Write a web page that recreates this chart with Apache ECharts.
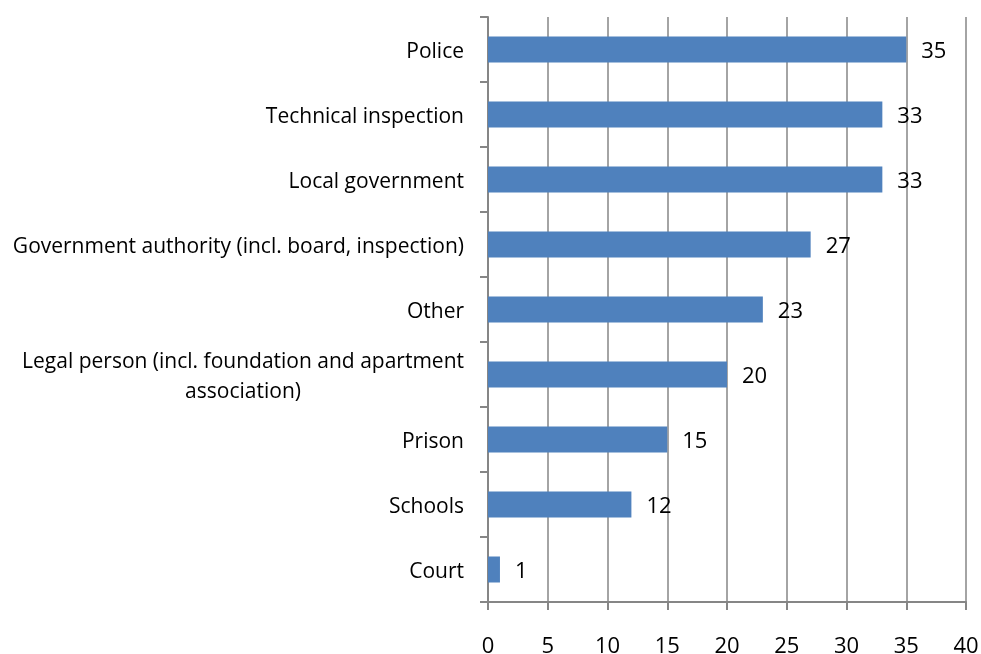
<!DOCTYPE html>
<html>
<head>
<meta charset="utf-8">
<script src="https://cdn.jsdelivr.net/npm/echarts@6/dist/echarts.min.js"></script>
<style>
  html, body { margin: 0; padding: 0; background: #fff; }
  #main { width: 981px; height: 654px; }
</style>
</head>
<body>
<div id="main"></div>
<script>
// categories top to bottom
var categories = [
  'Police',
  'Technical inspection',
  'Local government',
  'Government authority (incl. board, inspection)',
  'Other',
  'Legal person (incl. foundation and apartment\nassociation)',
  'Prison',
  'Schools',
  'Court'
];
var values = [35, 33, 33, 27, 23, 20, 15, 12, 1];
var xTicks = [0, 5, 10, 15, 20, 25, 30, 35, 40];

var gray = '#868686';
var font = 'Open Sans';

var chart = echarts.init(document.getElementById('main'));
chart.setOption({
  animation: false,
  grid: { left: 488, right: 15, top: 17, bottom: 52, outerBoundsMode: 'none' },
  xAxis: {
    type: 'value',
    min: xTicks[0],
    max: xTicks[xTicks.length - 1],
    interval: 5,
    axisLine: { show: true, lineStyle: { color: gray, width: 2 } },
    axisTick: { show: true, length: 8, lineStyle: { color: gray, width: 2 } },
    splitLine: { show: true, lineStyle: { color: gray, width: 1.5 } },
    axisLabel: { color: '#000', fontFamily: font, fontSize: 22, margin: 34 }
  },
  yAxis: {
    type: 'category',
    inverse: true,
    data: categories,
    axisLine: { show: true, lineStyle: { color: gray, width: 2 } },
    axisTick: { show: true, length: 8, lineStyle: { color: gray, width: 2 } },
    axisLabel: {
      margin: 24,
      padding: [5, 0, 0, 0],
      formatter: function (v) {
        return v.split('\n').map(function (s) { return '{c|' + s + '}'; }).join('\n');
      },
      rich: {
        c: { color: '#000', fontFamily: font, fontSize: 21, align: 'center', lineHeight: 30 }
      }
    }
  },
  series: [{
    type: 'bar',
    data: values,
    barWidth: 26,
    itemStyle: { color: '#4F81BD' },
    label: {
      show: true,
      position: 'right',
      distance: 15,
      offset: [0, 2],
      color: '#000',
      fontFamily: font,
      fontSize: 22
    }
  }]
});
</script>
</body>
</html>
